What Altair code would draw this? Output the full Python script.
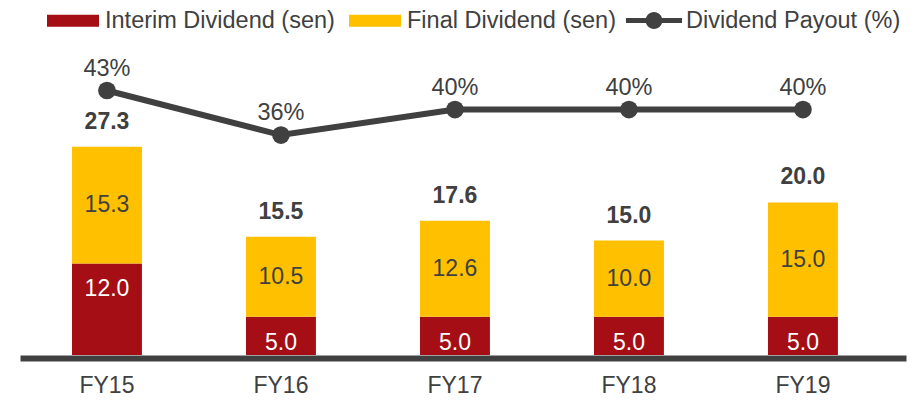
import altair as alt
import pandas as pd

# ---- data ----
years = ["FY15", "FY16", "FY17", "FY18", "FY19"]
interim = [12.0, 5.0, 5.0, 5.0, 5.0]
final_div = [15.3, 10.5, 12.6, 10.0, 15.0]
total = [27.3, 15.5, 17.6, 15.0, 20.0]
payout = [43, 36, 40, 40, 40]

series_names = ["Interim Dividend (sen)", "Final Dividend (sen)"]
payout_name = "Dividend Payout (%)"

RED = "#A50E14"
GOLD = "#FFC000"
GREY = "#404040"
FONT = "Liberation Sans"

wide = pd.DataFrame({
    "year": years,
    "interim": interim,
    "final": final_div,
    "total": total,
    "payout": payout,
})
wide["final_mid"] = [i + f / 2 for i, f in zip(interim, final_div)]
wide["interim_lbl"] = [f"{v:.1f}" for v in interim]
wide["final_lbl"] = [f"{v:.1f}" for v in final_div]
wide["total_lbl"] = [f"{v:.1f}" for v in total]
wide["payout_lbl"] = [f"{v:.0f}%" for v in payout]
wide["pseries"] = payout_name

long = pd.DataFrame({
    "year": years * 2,
    "series": [series_names[0]] * len(years) + [series_names[1]] * len(years),
    "value": interim + final_div,
    "ord": [0] * len(years) + [1] * len(years),
})

x_enc = alt.X(
    "year:N",
    sort=years,
    scale=alt.Scale(paddingInner=0.598, paddingOuter=0.345, align=0.433),
    axis=alt.Axis(
        title=None, labelAngle=0, labelFont=FONT, labelFontSize=23,
        labelColor=GREY, labelPadding=16, ticks=False, tickSize=0,
        domainColor=GREY, domainWidth=6, offset=3, grid=False,
    ),
)

bar_scale = alt.Scale(domain=[0, 41.28], nice=False, zero=False)
pay_scale = alt.Scale(domain=[1.42, 50.94], nice=False, zero=False)

bars = alt.Chart(long).mark_bar().encode(
    x=x_enc,
    y=alt.Y("value:Q", stack="zero", scale=bar_scale, axis=None),
    color=alt.Color(
        "series:N",
        scale=alt.Scale(domain=series_names, range=[RED, GOLD]),
        legend=alt.Legend(
            title=None, orient="none", legendX=27, legendY=-45.5,
            direction="horizontal", symbolType="M-1,-0.23H1V0.23H-1Z",
            symbolSize=2704, symbolStrokeWidth=0, labelFont=FONT,
            labelFontSize=23.5, labelColor=GREY, labelOffset=6,
            columnPadding=14, padding=0, labelLimit=400,
        ),
    ),
    order=alt.Order("ord:Q", sort="ascending"),
)

interim_txt = alt.Chart(wide).mark_text(
    font=FONT, fontSize=23, color="white", dy=26, baseline="middle"
).encode(
    x=x_enc,
    y=alt.Y("interim:Q", scale=bar_scale, axis=None),
    text="interim_lbl:N",
)

final_txt = alt.Chart(wide).mark_text(
    font=FONT, fontSize=23, color=GREY, baseline="middle"
).encode(
    x=x_enc,
    y=alt.Y("final_mid:Q", scale=bar_scale, axis=None),
    text="final_lbl:N",
)

total_txt = alt.Chart(wide).mark_text(
    font=FONT, fontSize=23, fontWeight="bold", color=GREY, dy=-25, baseline="middle"
).encode(
    x=x_enc,
    y=alt.Y("total:Q", scale=bar_scale, axis=None),
    text="total_lbl:N",
)

line = alt.Chart(wide).mark_line(color=GREY, strokeWidth=6).encode(
    x=x_enc,
    y=alt.Y("payout:Q", scale=pay_scale, axis=None),
)

dots = alt.Chart(wide).mark_circle(size=314, opacity=1).encode(
    x=x_enc,
    y=alt.Y("payout:Q", scale=pay_scale, axis=None),
    color=alt.Color(
        "pseries:N",
        scale=alt.Scale(domain=[payout_name], range=[GREY]),
        legend=alt.Legend(
            title=None, orient="none", legendX=606, legendY=-47.5,
            direction="horizontal",
            symbolType="M-1,-0.09H1V0.09H-1Z M0.3,0A0.3,0.3,0,1,1,-0.3,0A0.3,0.3,0,1,1,0.3,0Z",
            symbolSize=3136, symbolStrokeWidth=0, labelFont=FONT,
            labelFontSize=23.5, labelColor=GREY, labelOffset=4,
            padding=0, labelLimit=400,
        ),
    ),
)

pay_txt = alt.Chart(wide).mark_text(
    font=FONT, fontSize=23.5, color=GREY, dy=-22, baseline="middle"
).encode(
    x=x_enc,
    y=alt.Y("payout:Q", scale=pay_scale, axis=None),
    text="payout_lbl:N",
)

chart = alt.layer(
    bars, interim_txt, final_txt, total_txt, line, dots, pay_txt
).resolve_scale(
    y="independent", color="independent"
).properties(
    width=886,
    height=315,
    autosize=alt.AutoSizeParams(type="none"),
    padding={"left": 12, "top": 32, "right": 10, "bottom": 45},
    background="white",
).configure_view(stroke=None)

chart.save("out.html", embed_options={"renderer": "svg", "actions": False})
